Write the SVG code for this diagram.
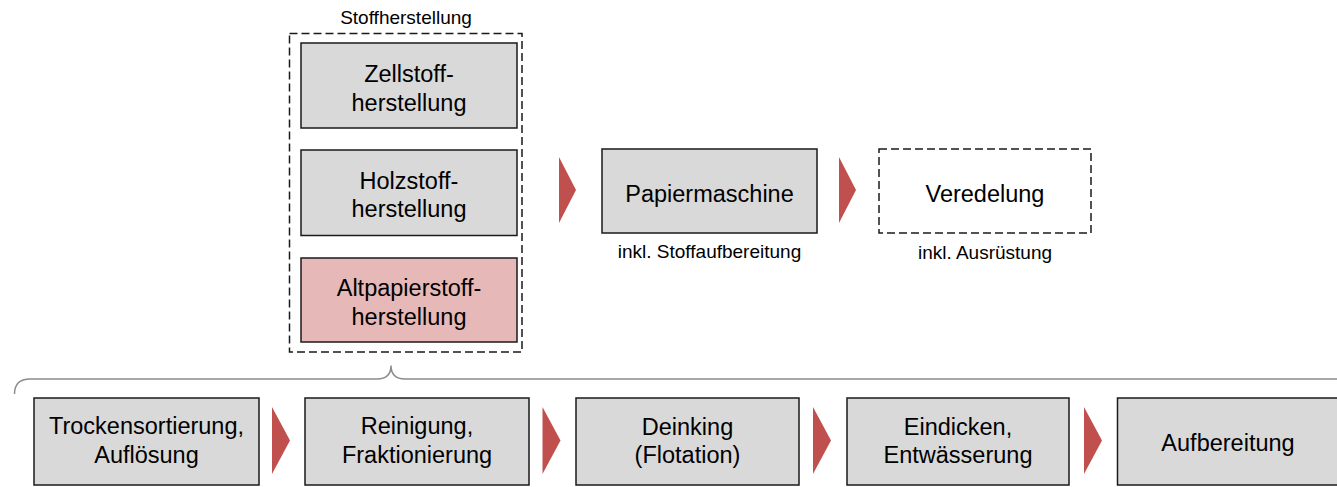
<svg xmlns="http://www.w3.org/2000/svg" width="1337" height="487" viewBox="0 0 1337 487">
<style>
text{font-family:"Liberation Sans",Arial,sans-serif;fill:#000;text-anchor:middle}
.t{font-size:23.5px}
.s{font-size:19px}
.box{fill:#D9D9D9;stroke:#1a1a1a;stroke-width:1.5}
.pink{fill:#E6B9B8;stroke:#1a1a1a;stroke-width:1.5}
.dash{fill:none;stroke:#1a1a1a;stroke-width:1.5;stroke-dasharray:8 4}
.arr{fill:#C0504D}
.brace{fill:none;stroke:#8c8c8c;stroke-width:1.5}
</style>
<rect width="1337" height="487" fill="#fff"/>
<g id="stoffherstellung">
<rect class="dash" x="289.5" y="33.5" width="232.5" height="318.5"/>
<text class="s" x="406" y="24">Stoffherstellung</text>
</g>
<g id="zellstoff">
<rect class="box" x="301" y="43" width="216" height="85"/>
<text class="t" x="409" y="82">Zellstoff-</text>
<text class="t" x="409" y="111">herstellung</text>
</g>
<g id="holzstoff">
<rect class="box" x="301" y="150" width="216" height="85.5"/>
<text class="t" x="409" y="188.5">Holzstoff-</text>
<text class="t" x="409" y="216.5">herstellung</text>
</g>
<g id="altpapier">
<rect class="pink" x="301" y="258" width="216" height="84"/>
<text class="t" x="409" y="296">Altpapierstoff-</text>
<text class="t" x="409" y="324.5">herstellung</text>
</g>
<g id="papiermaschine">
<rect class="box" x="602" y="149" width="215" height="84"/>
<text class="t" x="709.5" y="201.5">Papiermaschine</text>
<text class="s" x="709.5" y="258">inkl. Stoffaufbereitung</text>
</g>
<g id="veredelung">
<rect class="dash" x="879" y="149" width="212" height="84"/>
<text class="t" x="985" y="202">Veredelung</text>
<text class="s" x="985" y="259">inkl. Ausrüstung</text>
</g>
<g id="trocken">
<rect class="box" x="34" y="398" width="225" height="87"/>
<text class="t" x="146.5" y="434">Trockensortierung,</text>
<text class="t" x="146.5" y="463">Auflösung</text>
</g>
<g id="reinigung">
<rect class="box" x="305" y="398" width="224" height="87"/>
<text class="t" x="417" y="434">Reinigung,</text>
<text class="t" x="417" y="463">Fraktionierung</text>
</g>
<g id="deinking">
<rect class="box" x="576" y="398" width="223" height="87"/>
<text class="t" x="687.5" y="434.5">Deinking</text>
<text class="t" x="687.5" y="463">(Flotation)</text>
</g>
<g id="eindicken">
<rect class="box" x="847" y="398" width="222" height="87"/>
<text class="t" x="958" y="434.5">Eindicken,</text>
<text class="t" x="958" y="463">Entwässerung</text>
</g>
<g id="aufbereitung">
<rect class="box" x="1117.5" y="398" width="225" height="87"/>
<text class="t" x="1228" y="451">Aufbereitung</text>
</g>
<g id="connectors">
<path class="arr" d="M559,157 L576,190 L559,223 Z"/>
<path class="arr" d="M839,157 L856,190 L839,223 Z"/>
<path class="arr" d="M272,407 L290,440.5 L272,474 Z"/>
<path class="arr" d="M542.5,407 L560.5,440.5 L542.5,474 Z"/>
<path class="arr" d="M813,407 L831,440.5 L813,474 Z"/>
<path class="arr" d="M1084,407 L1102,440.5 L1084,474 Z"/>
<path class="brace" d="M14.5,394 Q14.5,379 30,379 L377,379 Q391,379 391,365.5 Q391,379 405,379 L1340,379"/>
</g>
</svg>
